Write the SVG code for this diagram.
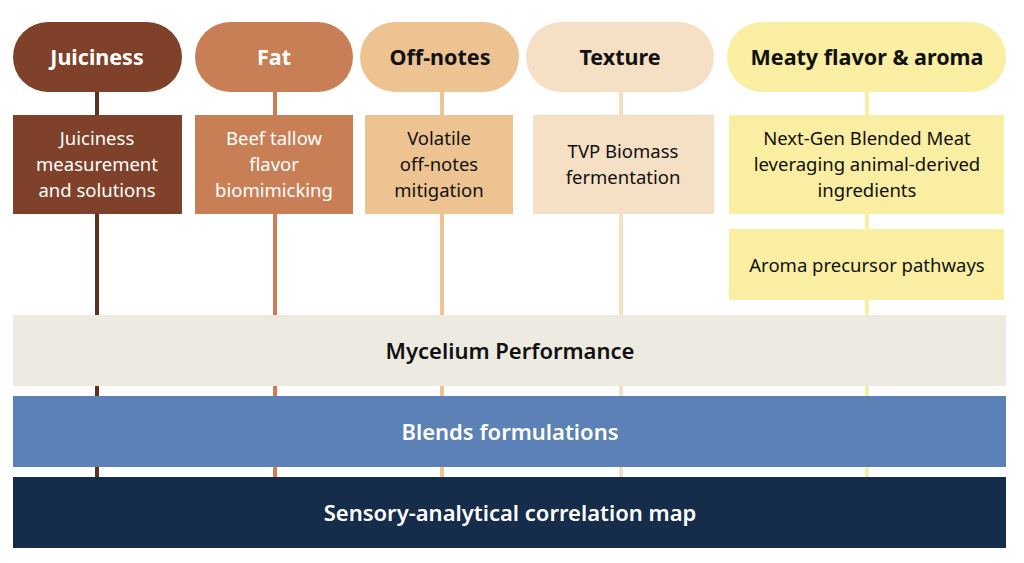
<svg xmlns="http://www.w3.org/2000/svg" width="1024" height="563" viewBox="0 0 1024 563">
<style>
text{font-family:"Noto Sans","Open Sans","DejaVu Sans",sans-serif;text-anchor:middle}
.t{font-size:21.5px;font-weight:700}
.b{font-size:18.5px;font-weight:400}
.band{font-size:22px;font-weight:600}
.w{fill:#ffffff}
.k{fill:#111111}
.ln{stroke-width:4;fill:none}
</style>
<rect width="1024" height="563" fill="#ffffff"/>
<g id="connectors">
<line class="ln" x1="97" y1="92" x2="97" y2="477" stroke="#5E321E"/>
<line class="ln" x1="275" y1="92" x2="275" y2="477" stroke="#CF7D54"/>
<line class="ln" x1="442" y1="92" x2="442" y2="477" stroke="#EDC392"/>
<line class="ln" x1="621" y1="92" x2="621" y2="477" stroke="#F5DFC5"/>
<line class="ln" x1="867" y1="92" x2="867" y2="477" stroke="#F9EEA1"/>
</g>
<g id="juiciness">
<rect x="13" y="22" width="169" height="70" rx="35" fill="#7F412A"/>
<text class="t w" x="97" y="65">Juiciness</text>
</g>
<g id="fat">
<rect x="195" y="22" width="158" height="70" rx="35" fill="#C97F56"/>
<text class="t w" x="274" y="65">Fat</text>
</g>
<g id="offnotes">
<rect x="360" y="22" width="159" height="70" rx="35" fill="#EDC392"/>
<text class="t k" x="440" y="65">Off-notes</text>
</g>
<g id="texture">
<rect x="526" y="22" width="188" height="70" rx="35" fill="#F5DFC5"/>
<text class="t k" x="620" y="65">Texture</text>
</g>
<g id="meaty">
<rect x="727" y="22" width="279" height="70" rx="35" fill="#F9EEA1"/>
<text class="t k" x="867" y="65">Meaty flavor &amp; aroma</text>
</g>
<g id="juiciness-box">
<rect x="13" y="115" width="169" height="99" fill="#7F412A"/>
<text class="b w" x="97" y="145">Juiciness</text>
<text class="b w" x="97" y="171">measurement</text>
<text class="b w" x="97" y="197">and solutions</text>
</g>
<g id="fat-box">
<rect x="195" y="115" width="158" height="99" fill="#C97F56"/>
<text class="b w" x="274" y="145">Beef tallow</text>
<text class="b w" x="274" y="171">flavor</text>
<text class="b w" x="274" y="197">biomimicking</text>
</g>
<g id="offnotes-box">
<rect x="365" y="115" width="148" height="99" fill="#EDC392"/>
<text class="b k" x="439" y="145">Volatile</text>
<text class="b k" x="439" y="171">off-notes</text>
<text class="b k" x="439" y="197">mitigation</text>
</g>
<g id="texture-box">
<rect x="533" y="115" width="181" height="99" fill="#F5DFC5"/>
<text class="b k" x="623" y="158">TVP Biomass</text>
<text class="b k" x="623" y="184">fermentation</text>
</g>
<g id="blended-box">
<rect x="729" y="115" width="275" height="99" fill="#F9EEA1"/>
<text class="b k" x="867" y="145">Next-Gen Blended Meat</text>
<text class="b k" x="867" y="171">leveraging animal-derived</text>
<text class="b k" x="867" y="197">ingredients</text>
</g>
<g id="aroma-box">
<rect x="729" y="229" width="275" height="71" fill="#F9EEA1"/>
<text class="b k" x="867" y="272">Aroma precursor pathways</text>
</g>
<g id="mycelium">
<rect x="13" y="315" width="993" height="71" fill="#EDEAE2"/>
<text class="band k" x="510" y="359">Mycelium Performance</text>
</g>
<g id="blends">
<rect x="13" y="396" width="993" height="71" fill="#5B81B7"/>
<text class="band w" x="510" y="440">Blends formulations</text>
</g>
<g id="sensory">
<rect x="13" y="477" width="993" height="71" fill="#152C4B"/>
<text class="band w" x="510" y="521">Sensory-analytical correlation map</text>
</g>
</svg>
